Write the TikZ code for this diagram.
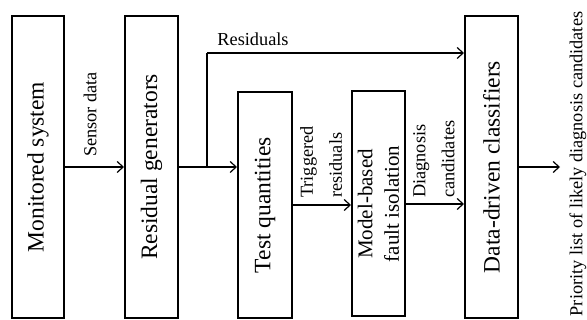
\documentclass[tikz,border=0pt]{standalone}
\usepackage{fontspec}
\setmainfont{Liberation Serif}
\usetikzlibrary{arrows.meta,calc}
\begin{document}
\begin{tikzpicture}[x=1pt,y=-1pt,
  blockbox/.style={draw,line width=2pt,inner sep=0pt,rotate=90,
    font=\fontsize{23.5}{28}\selectfont},
  conn/.style={line width=1.4pt,-{Straight Barb[length=6pt,width=11pt,line width=1.2pt]}},
  plainline/.style={line width=1.4pt},
  smalllabel/.style={inner sep=0pt,rotate=90,anchor=west,align=left,
    font=\fontsize{18.3}{25}\selectfont},
]
\useasboundingbox (0,0) rectangle (587,320);
% blocks (minimum width = length along rotated text, i.e. vertical extent)
\node[blockbox,minimum width=302pt,minimum height=52pt] (ms) at (38,167) {Monitored system};
\node[blockbox,minimum width=302pt,minimum height=53pt] (rg) at (151.5,167) {Residual generators};
\node[blockbox,minimum width=226pt,minimum height=54pt] (tq) at (265,205) {Test quantities};
\node[blockbox,minimum width=225pt,minimum height=53pt,align=center,
  font=\fontsize{21}{23.5}\selectfont] (mb) at (378.5,204) {Model-based\\[3pt]fault isolation};
\node[blockbox,minimum width=302pt,minimum height=53pt] (dd) at (491.5,167) {Data-driven classifiers};
% coordinates
\coordinate (br) at (207,167);
\coordinate (rtop) at (207,53);
\coordinate (out) at (560,167);
% connectors
\draw[conn] (ms.south) -- (rg.north);
\draw[conn] (rg.south) -- (rg.south -| tq.north);
\draw[plainline] (br) -- (rtop);
\draw[conn] (rtop) -- (rtop -| dd.north);
\draw[conn] (tq.south) -- (tq.south -| mb.north);
\draw[conn] (mb.south) -- (mb.south -| dd.north);
\draw[conn] (dd.south) -- (out);
% labels
\node[smalllabel] (lsensor) at (90,157) {Sensor data};
\node[smalllabel] (ltrig) at (321,198) {Triggered\\[4pt]residuals};
\node[smalllabel] (ldiag) at (434,198) {Diagnosis\\[4pt]candidates};
\node[inner sep=0pt,font=\fontsize{18.3}{22}\selectfont] (lres) at (253,39) {Residuals};
\node[inner sep=0pt,rotate=90,font=\fontsize{18.3}{22}\selectfont] (lprio) at (578,164) {Priority list of likely diagnosis candidates};
\end{tikzpicture}
\end{document}
